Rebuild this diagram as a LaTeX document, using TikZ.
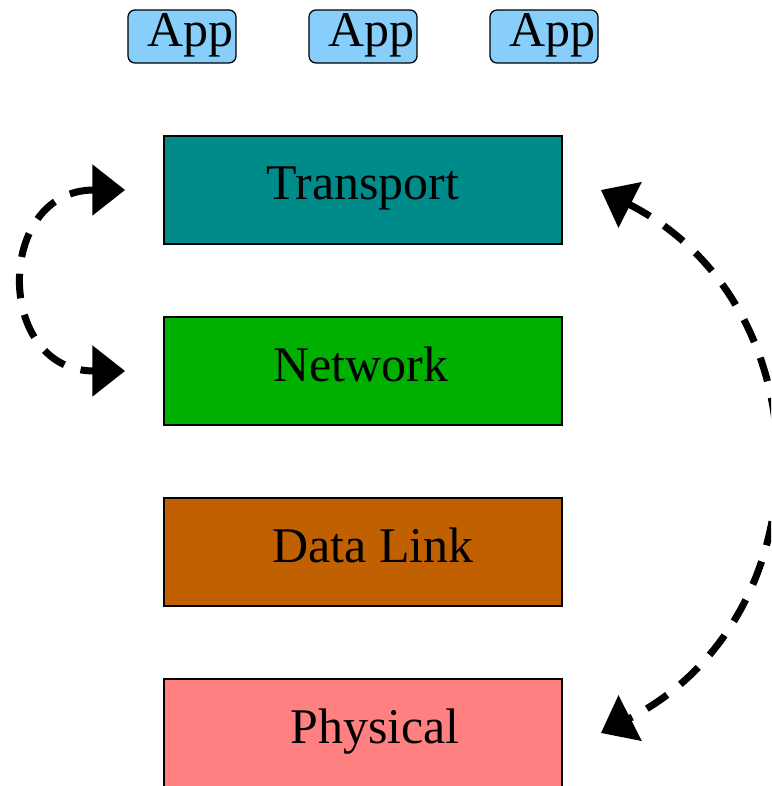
\documentclass[tikz,border=0pt]{standalone}
\usepackage{fontspec}
\setmainfont{Liberation Serif}
\usetikzlibrary{arrows.meta}
\tikzset{>={Triangle[length=0.82cm, width=1.24cm]}}
\definecolor{transcol}{RGB}{0,139,139}
\definecolor{netcol}{RGB}{0,176,0}
\definecolor{linkcol}{RGB}{192,96,0}
\definecolor{physcol}{RGB}{255,128,128}
\definecolor{appcol}{RGB}{135,206,250}
\tikzstyle{layer}=[draw=black,line width=1.2pt,minimum width=9.95cm,minimum height=2.7cm,inner sep=0pt]
\tikzstyle{app}=[draw=black,line width=0.9pt,fill=appcol,rounded corners=5pt,minimum width=2.7cm,minimum height=1.325cm,inner sep=0pt]
\tikzstyle{layertext}=[font=\fontsize{35.5}{40}\selectfont,text height=0.78cm,text depth=0.28cm,inner sep=0pt]
\tikzstyle{hop}=[<->,line width=5pt,dash pattern=on 17.5pt off 12pt]

\begin{document}
\begin{tikzpicture}[x=0.025cm,y=-0.025cm]
  \useasboundingbox (0,0) rectangle (771,786);
  \clip (0,0) rectangle (771,786);

  % APPS
  \foreach \i/\x in {1/182,2/363,3/544}{
    \node[app,label={[layertext,xshift=5.7pt]center:App}] (app\i) at (\x,36.5) {};
  }

  % LAYERS
  \node[layer,fill=transcol,label={[layertext]center:Transport}] (trans) at (363,190) {};
  \node[layer,fill=netcol,label={[layertext,xshift=-1.5pt]center:Network}] (net) at (363,371) {};
  \node[layer,fill=linkcol,label={[layertext,xshift=7pt]center:Data Link}] (link) at (363,552) {};
  \node[layer,fill=physcol,label={[layertext,xshift=8.5pt]center:Physical}] (phys) at (363,733) {};

  % HOPS
  \draw[hop] ([xshift=-0.95cm]trans.west) to[out=180,in=180,looseness=1.85]
    ([xshift=-0.95cm]net.west);
  \draw[hop] ([xshift=0.95cm]trans.east) to[out=-27,in=27,looseness=1.2]
    ([xshift=0.95cm]phys.east);
\end{tikzpicture}
\end{document}
